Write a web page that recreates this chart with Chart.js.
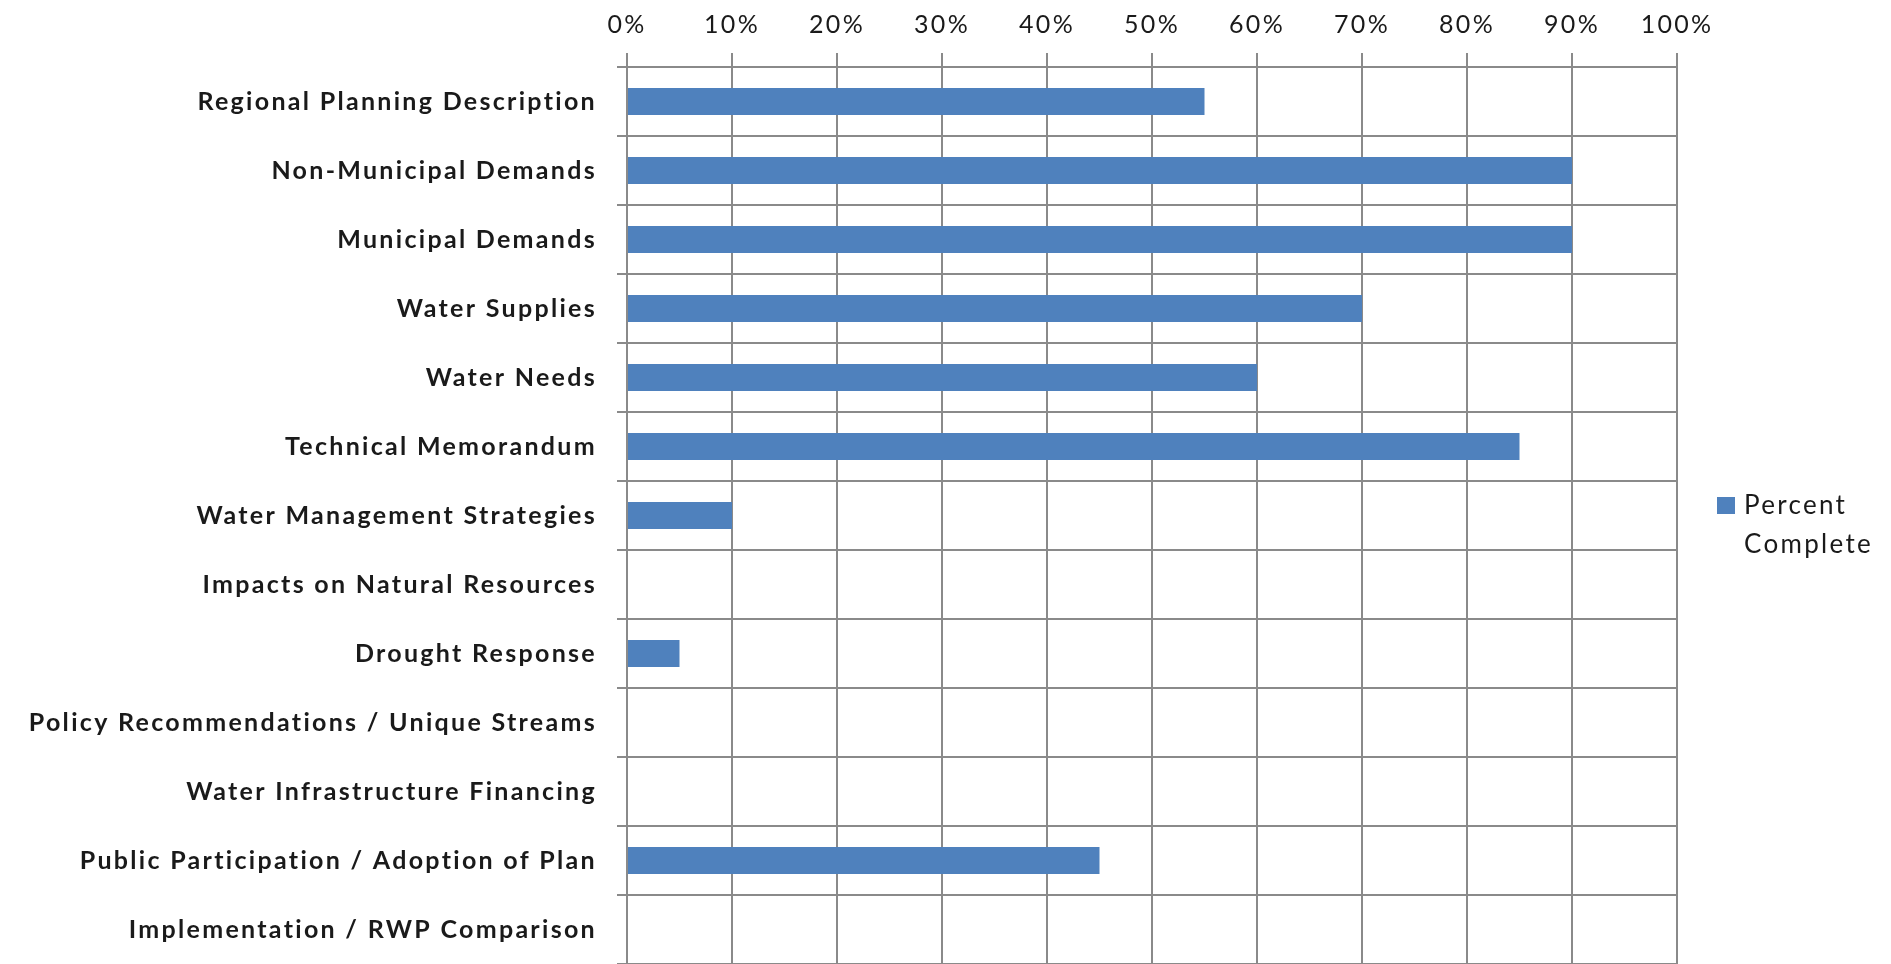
<!DOCTYPE html>
<html>
<head>
<meta charset="utf-8">
<script src="https://cdn.jsdelivr.net/npm/chart.js@4"></script>
<style>
  html, body { margin: 0; padding: 0; background: #fff; overflow: hidden; }
  canvas { display: block; }
</style>
</head>
<body>
<canvas id="progressChart" width="1891" height="964"></canvas>
<script>
const tasks = [
  "Regional Planning Description",
  "Non-Municipal Demands",
  "Municipal Demands",
  "Water Supplies",
  "Water Needs",
  "Technical Memorandum",
  "Water Management Strategies",
  "Impacts on Natural Resources",
  "Drought Response",
  "Policy Recommendations / Unique Streams",
  "Water Infrastructure Financing",
  "Public Participation / Adoption of Plan",
  "Implementation / RWP Comparison"
];
const percentComplete = [55, 90, 90, 70, 60, 85, 10, 0, 5, 0, 0, 45, 0];
const tickLabels = ["0%", "10%", "20%", "30%", "40%", "50%", "60%", "70%", "80%", "90%", "100%"];
const seriesName = "Percent Complete";

const barColor = "#4f81bd";
const gridColor = "#8a8a8a";
const textColor = "#1a1a1a";

// the original text is set quite loose, so widen the letters a little
const looseText = {
  id: "looseText",
  beforeDraw(chart) { chart.ctx.letterSpacing = "2.3px"; }
};

// legend drawn by hand so the label can wrap onto two lines like the original
const sideLegend = {
  id: "sideLegend",
  afterDraw(chart) {
    const ctx = chart.ctx;
    const x = chart.chartArea.right + 40;
    ctx.save();
    ctx.fillStyle = barColor;
    ctx.fillRect(x, 497, 18, 17);
    ctx.fillStyle = textColor;
    ctx.font = "26px Lato";
    ctx.textBaseline = "middle";
    const words = chart.data.datasets[0].label.split(" ");
    words.forEach((w, i) => ctx.fillText(w, x + 27, 506 + i * 39));
    ctx.restore();
  }
};

const ctx = document.getElementById("progressChart").getContext("2d");
new Chart(ctx, {
  type: "bar",
  data: {
    labels: tasks,
    datasets: [{
      label: seriesName,
      data: percentComplete,
      backgroundColor: barColor,
      categoryPercentage: 1,
      barPercentage: 0.39
    }]
  },
  options: {
    indexAxis: "y",
    responsive: false,
    animation: false,
    layout: { autoPadding: false, padding: { left: 0, right: 214, top: 0, bottom: -4 } },
    plugins: {
      legend: { display: false },
      tooltip: { enabled: false }
    },
    scales: {
      x: {
        position: "top",
        min: 0,
        max: 100,
        ticks: {
          stepSize: 10,
          padding: 13,
          color: textColor,
          font: { family: "Lato", size: 25 },
          callback: (v, i) => tickLabels[i]
        },
        grid: { color: gridColor, lineWidth: 2, tickLength: 14 },
        border: { color: gridColor, width: 2 },
        afterFit: (scale) => { scale.height = 67; }
      },
      y: {
        ticks: {
          padding: 20,
          color: textColor,
          font: { family: "Lato", size: 25, weight: "bold" }
        },
        grid: { offset: true, color: gridColor, lineWidth: 2, tickLength: 10 },
        border: { color: gridColor, width: 2 },
        afterFit: (scale) => {
          scale.width = 627;
          // rows should run right down to the bottom edge
          scale.paddingTop = 0;
          scale.paddingBottom = 0;
        }
      }
    }
  },
  plugins: [looseText, sideLegend]
});
</script>
</body>
</html>
